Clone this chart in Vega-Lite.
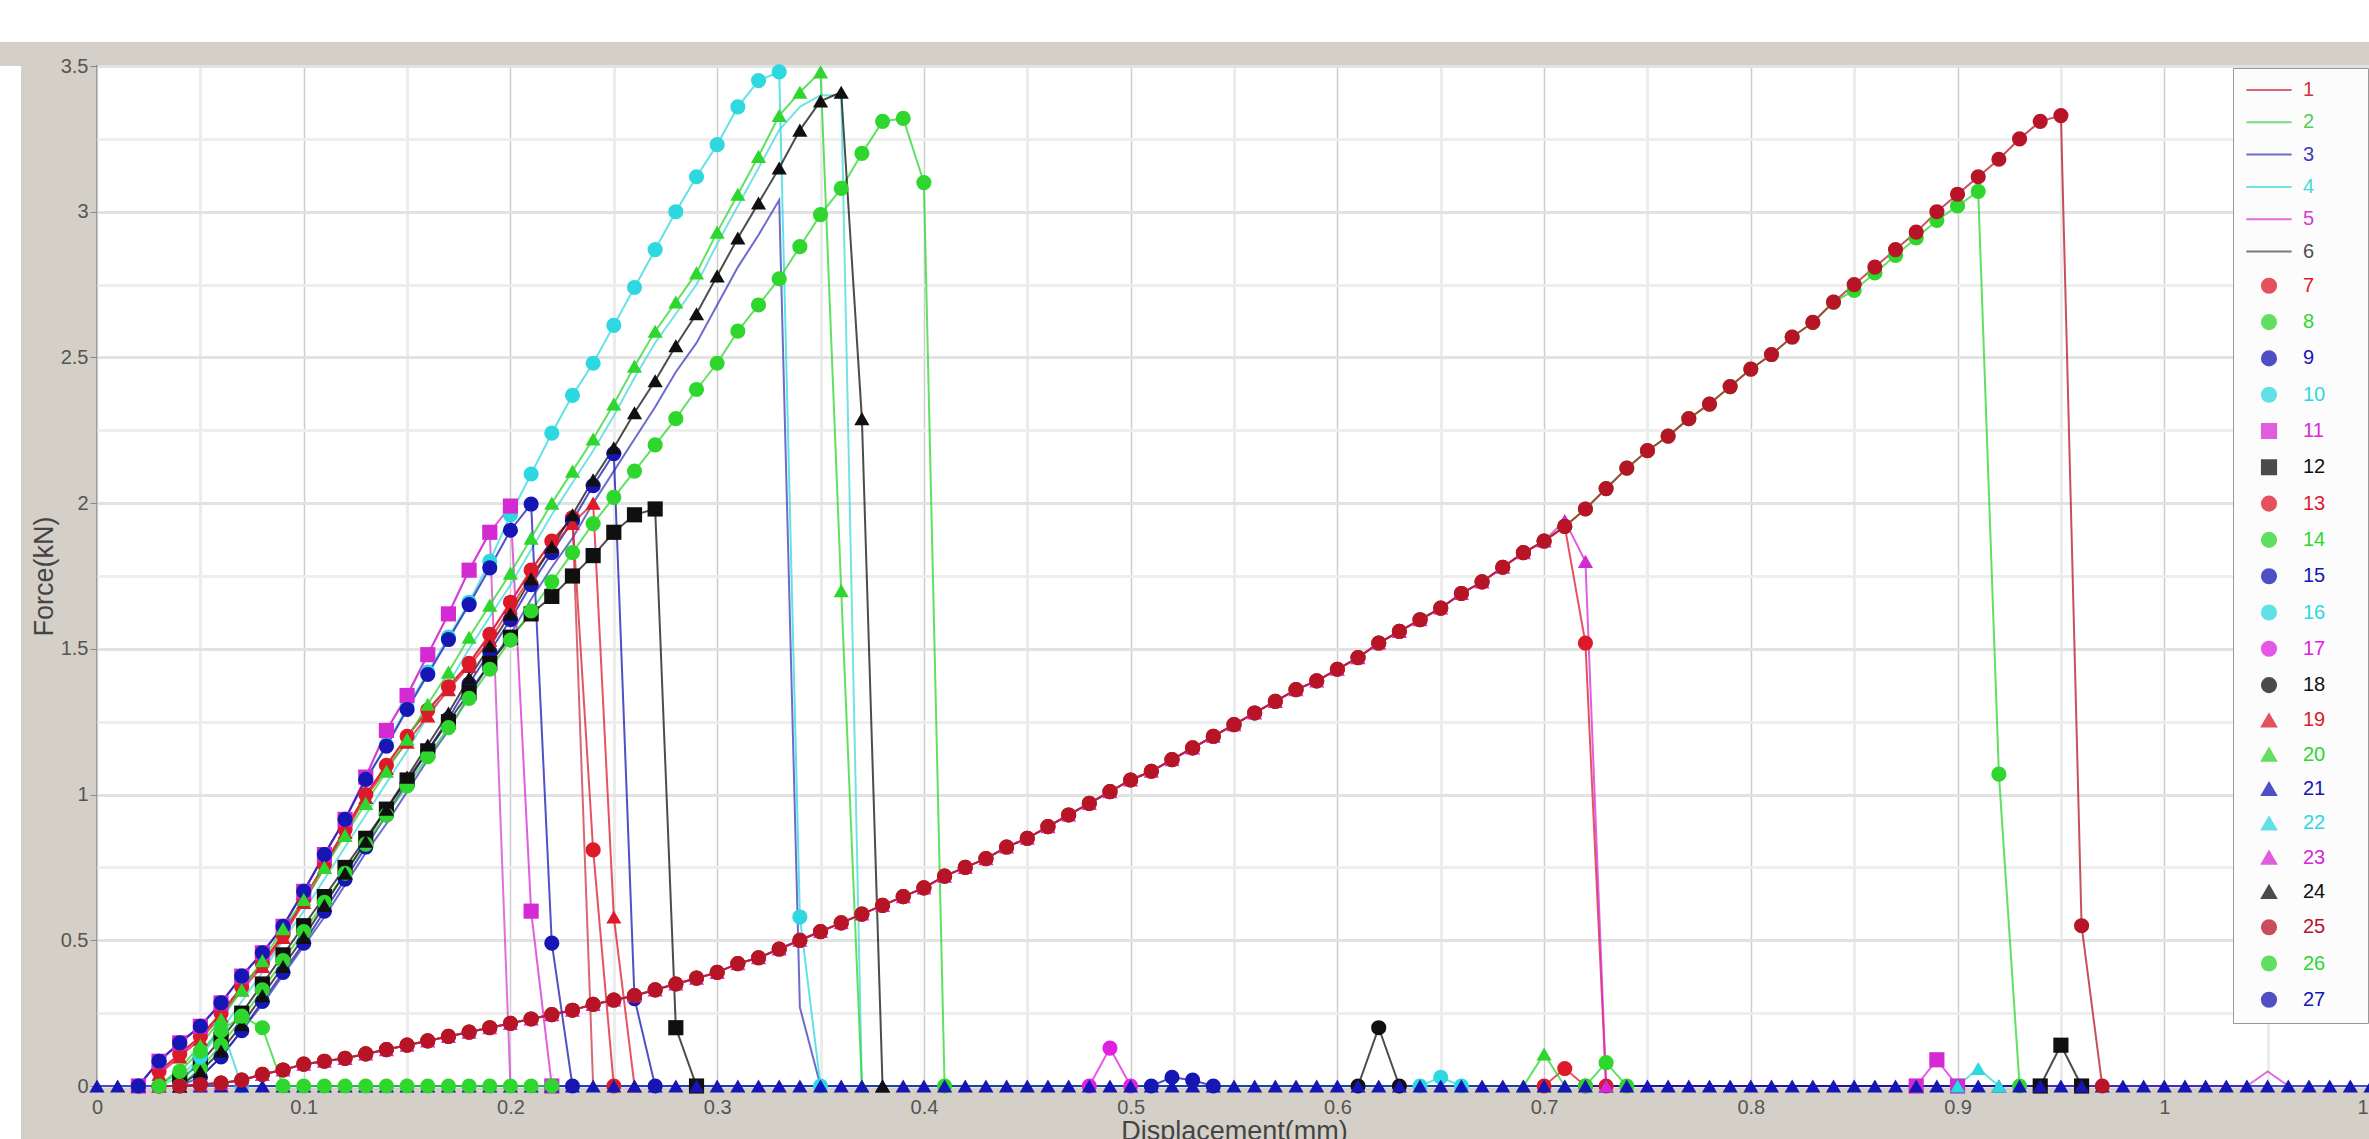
{
"$schema": "https://vega.github.io/schema/vega-lite/v6.json",
"autosize": {"type": "pad"},
"padding": 0,
"background": "#d4d0c8",
"spacing": 13,
"config": {"view": {"fill": "white", "stroke": "#8a8a8a", "strokeWidth": 2}, "font": "Liberation Sans"},
"vconcat": [
{"width": 2369, "height": 42, "view": {"fill": "white", "stroke": null}, "data": {"values": []}, "mark": "point"},
{"spacing": 8, "hconcat": [
{"width": 21, "height": 1100, "view": {"fill": "white", "stroke": null}, "data": {"values": []}, "mark": "point"},
{"name": "main", "width": 2274, "height": 1020,
"data": {"values": [
{"s":1,"x":0.03,"y":0.05},{"s":1,"x":0.04,"y":0.11},{"s":1,"x":0.05,"y":0.17},{"s":1,"x":0.06,"y":0.25},{"s":1,"x":0.07,"y":0.34},{"s":1,"x":0.08,"y":0.42},{"s":1,"x":0.09,"y":0.52},{"s":1,"x":0.10,"y":0.64},{"s":1,"x":0.11,"y":0.76},{"s":1,"x":0.12,"y":0.88},{"s":1,"x":0.13,"y":1.0},{"s":1,"x":0.14,"y":1.1},{"s":1,"x":0.15,"y":1.2},{"s":1,"x":0.16,"y":1.29},{"s":1,"x":0.17,"y":1.37},{"s":1,"x":0.18,"y":1.45},{"s":1,"x":0.19,"y":1.55},{"s":1,"x":0.20,"y":1.66},{"s":1,"x":0.21,"y":1.77},{"s":1,"x":0.22,"y":1.87},{"s":1,"x":0.23,"y":1.95},{"s":1,"x":0.24,"y":0},
{"s":3,"x":0.04,"y":0},{"s":3,"x":0.05,"y":0.03},{"s":3,"x":0.06,"y":0.1},{"s":3,"x":0.07,"y":0.19},{"s":3,"x":0.08,"y":0.28},{"s":3,"x":0.09,"y":0.38},{"s":3,"x":0.10,"y":0.48},{"s":3,"x":0.11,"y":0.58},{"s":3,"x":0.12,"y":0.69},{"s":3,"x":0.13,"y":0.8},{"s":3,"x":0.14,"y":0.9},{"s":3,"x":0.15,"y":1.01},{"s":3,"x":0.16,"y":1.12},{"s":3,"x":0.17,"y":1.22},{"s":3,"x":0.18,"y":1.34},{"s":3,"x":0.19,"y":1.45},{"s":3,"x":0.20,"y":1.55},{"s":3,"x":0.21,"y":1.67},{"s":3,"x":0.22,"y":1.78},{"s":3,"x":0.23,"y":1.88},{"s":3,"x":0.24,"y":2.0},{"s":3,"x":0.25,"y":2.11},{"s":3,"x":0.26,"y":2.22},{"s":3,"x":0.27,"y":2.33},{"s":3,"x":0.28,"y":2.45},{"s":3,"x":0.29,"y":2.55},{"s":3,"x":0.30,"y":2.68},{"s":3,"x":0.31,"y":2.81},{"s":3,"x":0.32,"y":2.92},{"s":3,"x":0.33,"y":3.04},{"s":3,"x":0.34,"y":0.27},{"s":3,"x":0.35,"y":0},
{"s":4,"x":0.03,"y":0},{"s":4,"x":0.04,"y":0.03},{"s":4,"x":0.05,"y":0.1},{"s":4,"x":0.06,"y":0.19},{"s":4,"x":0.07,"y":0.29},{"s":4,"x":0.08,"y":0.39},{"s":4,"x":0.09,"y":0.5},{"s":4,"x":0.10,"y":0.6},{"s":4,"x":0.11,"y":0.71},{"s":4,"x":0.12,"y":0.82},{"s":4,"x":0.13,"y":0.93},{"s":4,"x":0.14,"y":1.04},{"s":4,"x":0.15,"y":1.15},{"s":4,"x":0.16,"y":1.27},{"s":4,"x":0.17,"y":1.38},{"s":4,"x":0.18,"y":1.5},{"s":4,"x":0.19,"y":1.61},{"s":4,"x":0.20,"y":1.72},{"s":4,"x":0.21,"y":1.84},{"s":4,"x":0.22,"y":1.96},{"s":4,"x":0.23,"y":2.07},{"s":4,"x":0.24,"y":2.18},{"s":4,"x":0.25,"y":2.3},{"s":4,"x":0.26,"y":2.43},{"s":4,"x":0.27,"y":2.55},{"s":4,"x":0.28,"y":2.65},{"s":4,"x":0.29,"y":2.75},{"s":4,"x":0.30,"y":2.89},{"s":4,"x":0.31,"y":3.02},{"s":4,"x":0.32,"y":3.15},{"s":4,"x":0.33,"y":3.28},{"s":4,"x":0.34,"y":3.36},{"s":4,"x":0.35,"y":3.4},{"s":4,"x":0.36,"y":3.4},{"s":4,"x":0.37,"y":0},
{"s":5,"x":0.02,"y":0},{"s":5,"x":0.03,"y":0.085},{"s":5,"x":0.04,"y":0.148},{"s":5,"x":0.05,"y":0.205},{"s":5,"x":0.06,"y":0.285},{"s":5,"x":0.07,"y":0.377},{"s":5,"x":0.08,"y":0.457},{"s":5,"x":0.09,"y":0.548},{"s":5,"x":0.10,"y":0.668},{"s":5,"x":0.11,"y":0.794},{"s":5,"x":0.12,"y":0.915},{"s":5,"x":0.13,"y":1.06},{"s":5,"x":0.14,"y":1.22},{"s":5,"x":0.15,"y":1.34},{"s":5,"x":0.16,"y":1.48},{"s":5,"x":0.17,"y":1.62},{"s":5,"x":0.18,"y":1.77},{"s":5,"x":0.19,"y":1.9},{"s":5,"x":0.20,"y":0},{"s":5,"x":1.04,"y":0},{"s":5,"x":1.05,"y":0.05},{"s":5,"x":1.06,"y":0},
{"s":7,"x":0.03,"y":0.05},{"s":7,"x":0.04,"y":0.11},{"s":7,"x":0.05,"y":0.17},{"s":7,"x":0.06,"y":0.25},{"s":7,"x":0.07,"y":0.34},{"s":7,"x":0.08,"y":0.42},{"s":7,"x":0.09,"y":0.52},{"s":7,"x":0.10,"y":0.64},{"s":7,"x":0.11,"y":0.76},{"s":7,"x":0.12,"y":0.88},{"s":7,"x":0.13,"y":1.0},{"s":7,"x":0.14,"y":1.1},{"s":7,"x":0.15,"y":1.2},{"s":7,"x":0.16,"y":1.29},{"s":7,"x":0.17,"y":1.37},{"s":7,"x":0.18,"y":1.45},{"s":7,"x":0.19,"y":1.55},{"s":7,"x":0.20,"y":1.66},{"s":7,"x":0.21,"y":1.77},{"s":7,"x":0.22,"y":1.87},{"s":7,"x":0.23,"y":1.95},{"s":7,"x":0.24,"y":0.81},{"s":7,"x":0.25,"y":0},{"s":7,"x":0.70,"y":0},{"s":7,"x":0.71,"y":0.06},{"s":7,"x":0.72,"y":0},
{"s":8,"x":0.03,"y":0},{"s":8,"x":0.04,"y":0},{"s":8,"x":0.05,"y":0.005},{"s":8,"x":0.06,"y":0.01},{"s":8,"x":0.07,"y":0.02},{"s":8,"x":0.08,"y":0.04},{"s":8,"x":0.09,"y":0.055},{"s":8,"x":0.10,"y":0.075},{"s":8,"x":0.11,"y":0.085},{"s":8,"x":0.12,"y":0.095},{"s":8,"x":0.13,"y":0.11},{"s":8,"x":0.14,"y":0.125},{"s":8,"x":0.15,"y":0.14},{"s":8,"x":0.16,"y":0.155},{"s":8,"x":0.17,"y":0.17},{"s":8,"x":0.18,"y":0.185},{"s":8,"x":0.19,"y":0.2},{"s":8,"x":0.20,"y":0.215},{"s":8,"x":0.21,"y":0.23},{"s":8,"x":0.22,"y":0.245},{"s":8,"x":0.23,"y":0.26},{"s":8,"x":0.24,"y":0.28},{"s":8,"x":0.25,"y":0.295},{"s":8,"x":0.26,"y":0.31},{"s":8,"x":0.27,"y":0.33},{"s":8,"x":0.28,"y":0.35},{"s":8,"x":0.29,"y":0.37},{"s":8,"x":0.30,"y":0.39},{"s":8,"x":0.31,"y":0.42},{"s":8,"x":0.32,"y":0.44},{"s":8,"x":0.33,"y":0.47},{"s":8,"x":0.34,"y":0.5},{"s":8,"x":0.35,"y":0.53},{"s":8,"x":0.36,"y":0.56},{"s":8,"x":0.37,"y":0.59},{"s":8,"x":0.38,"y":0.62},{"s":8,"x":0.39,"y":0.65},{"s":8,"x":0.40,"y":0.68},{"s":8,"x":0.41,"y":0.72},{"s":8,"x":0.42,"y":0.75},{"s":8,"x":0.43,"y":0.78},{"s":8,"x":0.44,"y":0.82},{"s":8,"x":0.45,"y":0.85},{"s":8,"x":0.46,"y":0.89},{"s":8,"x":0.47,"y":0.93},{"s":8,"x":0.48,"y":0.97},{"s":8,"x":0.49,"y":1.01},{"s":8,"x":0.50,"y":1.05},{"s":8,"x":0.51,"y":1.08},{"s":8,"x":0.52,"y":1.12},{"s":8,"x":0.53,"y":1.16},{"s":8,"x":0.54,"y":1.2},{"s":8,"x":0.55,"y":1.24},{"s":8,"x":0.56,"y":1.28},{"s":8,"x":0.57,"y":1.32},{"s":8,"x":0.58,"y":1.36},{"s":8,"x":0.59,"y":1.39},{"s":8,"x":0.60,"y":1.43},{"s":8,"x":0.61,"y":1.47},{"s":8,"x":0.62,"y":1.52},{"s":8,"x":0.63,"y":1.56},{"s":8,"x":0.64,"y":1.6},{"s":8,"x":0.65,"y":1.64},{"s":8,"x":0.66,"y":1.69},{"s":8,"x":0.67,"y":1.73},{"s":8,"x":0.68,"y":1.78},{"s":8,"x":0.69,"y":1.83},{"s":8,"x":0.70,"y":1.87},{"s":8,"x":0.71,"y":1.92},{"s":8,"x":0.72,"y":1.98},{"s":8,"x":0.73,"y":2.05},{"s":8,"x":0.74,"y":2.12},{"s":8,"x":0.75,"y":2.18},{"s":8,"x":0.76,"y":2.23},{"s":8,"x":0.77,"y":2.29},{"s":8,"x":0.78,"y":2.34},{"s":8,"x":0.79,"y":2.4},{"s":8,"x":0.80,"y":2.46},{"s":8,"x":0.81,"y":2.51},{"s":8,"x":0.82,"y":2.57},{"s":8,"x":0.83,"y":2.62},{"s":8,"x":0.84,"y":2.69},{"s":8,"x":0.85,"y":2.73},{"s":8,"x":0.86,"y":2.79},{"s":8,"x":0.87,"y":2.85},{"s":8,"x":0.88,"y":2.91},{"s":8,"x":0.89,"y":2.97},{"s":8,"x":0.90,"y":3.02},{"s":8,"x":0.91,"y":3.07},{"s":8,"x":0.92,"y":1.07},{"s":8,"x":0.93,"y":0},
{"s":9,"x":0.05,"y":0.03},{"s":9,"x":0.06,"y":0.1},{"s":9,"x":0.07,"y":0.19},{"s":9,"x":0.08,"y":0.29},{"s":9,"x":0.09,"y":0.39},{"s":9,"x":0.10,"y":0.49},{"s":9,"x":0.11,"y":0.6},{"s":9,"x":0.12,"y":0.71},{"s":9,"x":0.13,"y":0.82},{"s":9,"x":0.14,"y":0.93},{"s":9,"x":0.15,"y":1.04},{"s":9,"x":0.16,"y":1.15},{"s":9,"x":0.17,"y":1.26},{"s":9,"x":0.18,"y":1.38},{"s":9,"x":0.19,"y":1.49},{"s":9,"x":0.20,"y":1.6},{"s":9,"x":0.21,"y":1.72},{"s":9,"x":0.22,"y":1.83},{"s":9,"x":0.23,"y":1.94},{"s":9,"x":0.24,"y":2.06},{"s":9,"x":0.25,"y":2.17},{"s":9,"x":0.26,"y":0.3},{"s":9,"x":0.27,"y":0},
{"s":10,"x":0.02,"y":0},{"s":10,"x":0.03,"y":0.085},{"s":10,"x":0.04,"y":0.148},{"s":10,"x":0.05,"y":0.205},{"s":10,"x":0.06,"y":0.285},{"s":10,"x":0.07,"y":0.377},{"s":10,"x":0.08,"y":0.457},{"s":10,"x":0.09,"y":0.548},{"s":10,"x":0.10,"y":0.668},{"s":10,"x":0.11,"y":0.794},{"s":10,"x":0.12,"y":0.915},{"s":10,"x":0.13,"y":1.052},{"s":10,"x":0.14,"y":1.17},{"s":10,"x":0.15,"y":1.3},{"s":10,"x":0.16,"y":1.42},{"s":10,"x":0.17,"y":1.54},{"s":10,"x":0.18,"y":1.66},{"s":10,"x":0.19,"y":1.8},{"s":10,"x":0.20,"y":1.96},{"s":10,"x":0.21,"y":2.1},{"s":10,"x":0.22,"y":2.24},{"s":10,"x":0.23,"y":2.37},{"s":10,"x":0.24,"y":2.48},{"s":10,"x":0.25,"y":2.61},{"s":10,"x":0.26,"y":2.74},{"s":10,"x":0.27,"y":2.87},{"s":10,"x":0.28,"y":3.0},{"s":10,"x":0.29,"y":3.12},{"s":10,"x":0.30,"y":3.23},{"s":10,"x":0.31,"y":3.36},{"s":10,"x":0.32,"y":3.45},{"s":10,"x":0.33,"y":3.48},{"s":10,"x":0.34,"y":0.58},{"s":10,"x":0.35,"y":0},
{"s":11,"x":0.02,"y":0},{"s":11,"x":0.03,"y":0.085},{"s":11,"x":0.04,"y":0.148},{"s":11,"x":0.05,"y":0.205},{"s":11,"x":0.06,"y":0.285},{"s":11,"x":0.07,"y":0.377},{"s":11,"x":0.08,"y":0.457},{"s":11,"x":0.09,"y":0.548},{"s":11,"x":0.10,"y":0.668},{"s":11,"x":0.11,"y":0.794},{"s":11,"x":0.12,"y":0.915},{"s":11,"x":0.13,"y":1.06},{"s":11,"x":0.14,"y":1.22},{"s":11,"x":0.15,"y":1.34},{"s":11,"x":0.16,"y":1.48},{"s":11,"x":0.17,"y":1.62},{"s":11,"x":0.18,"y":1.77},{"s":11,"x":0.19,"y":1.9},{"s":11,"x":0.20,"y":1.99},{"s":11,"x":0.21,"y":0.6},{"s":11,"x":0.22,"y":0},{"s":11,"x":0.88,"y":0},{"s":11,"x":0.89,"y":0.09},{"s":11,"x":0.90,"y":0},
{"s":12,"x":0.04,"y":0.02},{"s":12,"x":0.05,"y":0.08},{"s":12,"x":0.06,"y":0.16},{"s":12,"x":0.07,"y":0.25},{"s":12,"x":0.08,"y":0.35},{"s":12,"x":0.09,"y":0.45},{"s":12,"x":0.10,"y":0.55},{"s":12,"x":0.11,"y":0.65},{"s":12,"x":0.12,"y":0.75},{"s":12,"x":0.13,"y":0.85},{"s":12,"x":0.14,"y":0.95},{"s":12,"x":0.15,"y":1.05},{"s":12,"x":0.16,"y":1.15},{"s":12,"x":0.17,"y":1.25},{"s":12,"x":0.18,"y":1.35},{"s":12,"x":0.19,"y":1.45},{"s":12,"x":0.20,"y":1.54},{"s":12,"x":0.21,"y":1.62},{"s":12,"x":0.22,"y":1.68},{"s":12,"x":0.23,"y":1.75},{"s":12,"x":0.24,"y":1.82},{"s":12,"x":0.25,"y":1.9},{"s":12,"x":0.26,"y":1.96},{"s":12,"x":0.27,"y":1.98},{"s":12,"x":0.28,"y":0.2},{"s":12,"x":0.29,"y":0},{"s":12,"x":0.94,"y":0},{"s":12,"x":0.95,"y":0.14},{"s":12,"x":0.96,"y":0},
{"s":13,"x":0.03,"y":0},{"s":13,"x":0.04,"y":0},{"s":13,"x":0.05,"y":0.005},{"s":13,"x":0.06,"y":0.01},{"s":13,"x":0.07,"y":0.02},{"s":13,"x":0.08,"y":0.04},{"s":13,"x":0.09,"y":0.055},{"s":13,"x":0.10,"y":0.075},{"s":13,"x":0.11,"y":0.085},{"s":13,"x":0.12,"y":0.095},{"s":13,"x":0.13,"y":0.11},{"s":13,"x":0.14,"y":0.125},{"s":13,"x":0.15,"y":0.14},{"s":13,"x":0.16,"y":0.155},{"s":13,"x":0.17,"y":0.17},{"s":13,"x":0.18,"y":0.185},{"s":13,"x":0.19,"y":0.2},{"s":13,"x":0.20,"y":0.215},{"s":13,"x":0.21,"y":0.23},{"s":13,"x":0.22,"y":0.245},{"s":13,"x":0.23,"y":0.26},{"s":13,"x":0.24,"y":0.28},{"s":13,"x":0.25,"y":0.295},{"s":13,"x":0.26,"y":0.31},{"s":13,"x":0.27,"y":0.33},{"s":13,"x":0.28,"y":0.35},{"s":13,"x":0.29,"y":0.37},{"s":13,"x":0.30,"y":0.39},{"s":13,"x":0.31,"y":0.42},{"s":13,"x":0.32,"y":0.44},{"s":13,"x":0.33,"y":0.47},{"s":13,"x":0.34,"y":0.5},{"s":13,"x":0.35,"y":0.53},{"s":13,"x":0.36,"y":0.56},{"s":13,"x":0.37,"y":0.59},{"s":13,"x":0.38,"y":0.62},{"s":13,"x":0.39,"y":0.65},{"s":13,"x":0.40,"y":0.68},{"s":13,"x":0.41,"y":0.72},{"s":13,"x":0.42,"y":0.75},{"s":13,"x":0.43,"y":0.78},{"s":13,"x":0.44,"y":0.82},{"s":13,"x":0.45,"y":0.85},{"s":13,"x":0.46,"y":0.89},{"s":13,"x":0.47,"y":0.93},{"s":13,"x":0.48,"y":0.97},{"s":13,"x":0.49,"y":1.01},{"s":13,"x":0.50,"y":1.05},{"s":13,"x":0.51,"y":1.08},{"s":13,"x":0.52,"y":1.12},{"s":13,"x":0.53,"y":1.16},{"s":13,"x":0.54,"y":1.2},{"s":13,"x":0.55,"y":1.24},{"s":13,"x":0.56,"y":1.28},{"s":13,"x":0.57,"y":1.32},{"s":13,"x":0.58,"y":1.36},{"s":13,"x":0.59,"y":1.39},{"s":13,"x":0.60,"y":1.43},{"s":13,"x":0.61,"y":1.47},{"s":13,"x":0.62,"y":1.52},{"s":13,"x":0.63,"y":1.56},{"s":13,"x":0.64,"y":1.6},{"s":13,"x":0.65,"y":1.64},{"s":13,"x":0.66,"y":1.69},{"s":13,"x":0.67,"y":1.73},{"s":13,"x":0.68,"y":1.78},{"s":13,"x":0.69,"y":1.83},{"s":13,"x":0.70,"y":1.87},{"s":13,"x":0.71,"y":1.92},{"s":13,"x":0.72,"y":1.52},{"s":13,"x":0.73,"y":0},
{"s":14,"x":0.04,"y":0},{"s":14,"x":0.05,"y":0.06},{"s":14,"x":0.06,"y":0.14},{"s":14,"x":0.07,"y":0.23},{"s":14,"x":0.08,"y":0.33},{"s":14,"x":0.09,"y":0.43},{"s":14,"x":0.10,"y":0.53},{"s":14,"x":0.11,"y":0.63},{"s":14,"x":0.12,"y":0.73},{"s":14,"x":0.13,"y":0.83},{"s":14,"x":0.14,"y":0.93},{"s":14,"x":0.15,"y":1.03},{"s":14,"x":0.16,"y":1.13},{"s":14,"x":0.17,"y":1.23},{"s":14,"x":0.18,"y":1.33},{"s":14,"x":0.19,"y":1.43},{"s":14,"x":0.20,"y":1.53},{"s":14,"x":0.21,"y":1.63},{"s":14,"x":0.22,"y":1.73},{"s":14,"x":0.23,"y":1.83},{"s":14,"x":0.24,"y":1.93},{"s":14,"x":0.25,"y":2.02},{"s":14,"x":0.26,"y":2.11},{"s":14,"x":0.27,"y":2.2},{"s":14,"x":0.28,"y":2.29},{"s":14,"x":0.29,"y":2.39},{"s":14,"x":0.30,"y":2.48},{"s":14,"x":0.31,"y":2.59},{"s":14,"x":0.32,"y":2.68},{"s":14,"x":0.33,"y":2.77},{"s":14,"x":0.34,"y":2.88},{"s":14,"x":0.35,"y":2.99},{"s":14,"x":0.36,"y":3.08},{"s":14,"x":0.37,"y":3.2},{"s":14,"x":0.38,"y":3.31},{"s":14,"x":0.39,"y":3.32},{"s":14,"x":0.40,"y":3.1},{"s":14,"x":0.41,"y":0},{"s":14,"x":0.72,"y":0},{"s":14,"x":0.73,"y":0.08},{"s":14,"x":0.74,"y":0},
{"s":15,"x":0.02,"y":0},{"s":15,"x":0.03,"y":0.085},{"s":15,"x":0.04,"y":0.148},{"s":15,"x":0.05,"y":0.205},{"s":15,"x":0.06,"y":0.285},{"s":15,"x":0.07,"y":0.377},{"s":15,"x":0.08,"y":0.457},{"s":15,"x":0.09,"y":0.548},{"s":15,"x":0.10,"y":0.668},{"s":15,"x":0.11,"y":0.794},{"s":15,"x":0.12,"y":0.915},{"s":15,"x":0.13,"y":1.052},{"s":15,"x":0.14,"y":1.166},{"s":15,"x":0.15,"y":1.292},{"s":15,"x":0.16,"y":1.412},{"s":15,"x":0.17,"y":1.532},{"s":15,"x":0.18,"y":1.652},{"s":15,"x":0.19,"y":1.778},{"s":15,"x":0.20,"y":1.907},{"s":15,"x":0.21,"y":1.997},{"s":15,"x":0.22,"y":0.49},{"s":15,"x":0.23,"y":0},
{"s":16,"x":0.04,"y":0},{"s":16,"x":0.05,"y":0.1},{"s":16,"x":0.06,"y":0.21},{"s":16,"x":0.07,"y":0},{"s":16,"x":0.64,"y":0},{"s":16,"x":0.65,"y":0.03},{"s":16,"x":0.66,"y":0},
{"s":17,"x":0.48,"y":0},{"s":17,"x":0.49,"y":0.13},{"s":17,"x":0.50,"y":0},
{"s":18,"x":0.61,"y":0},{"s":18,"x":0.62,"y":0.2},{"s":18,"x":0.63,"y":0},
{"s":19,"x":0.03,"y":0.04},{"s":19,"x":0.04,"y":0.1},{"s":19,"x":0.05,"y":0.16},{"s":19,"x":0.06,"y":0.24},{"s":19,"x":0.07,"y":0.33},{"s":19,"x":0.08,"y":0.41},{"s":19,"x":0.09,"y":0.51},{"s":19,"x":0.10,"y":0.63},{"s":19,"x":0.11,"y":0.75},{"s":19,"x":0.12,"y":0.87},{"s":19,"x":0.13,"y":0.99},{"s":19,"x":0.14,"y":1.09},{"s":19,"x":0.15,"y":1.18},{"s":19,"x":0.16,"y":1.27},{"s":19,"x":0.17,"y":1.36},{"s":19,"x":0.18,"y":1.44},{"s":19,"x":0.19,"y":1.53},{"s":19,"x":0.20,"y":1.64},{"s":19,"x":0.21,"y":1.75},{"s":19,"x":0.22,"y":1.85},{"s":19,"x":0.23,"y":1.93},{"s":19,"x":0.24,"y":2.0},{"s":19,"x":0.25,"y":0.58},{"s":19,"x":0.26,"y":0},
{"s":20,"x":0.03,"y":0},{"s":20,"x":0.04,"y":0.06},{"s":20,"x":0.05,"y":0.14},{"s":20,"x":0.06,"y":0.23},{"s":20,"x":0.07,"y":0.33},{"s":20,"x":0.08,"y":0.43},{"s":20,"x":0.09,"y":0.54},{"s":20,"x":0.10,"y":0.64},{"s":20,"x":0.11,"y":0.75},{"s":20,"x":0.12,"y":0.86},{"s":20,"x":0.13,"y":0.97},{"s":20,"x":0.14,"y":1.08},{"s":20,"x":0.15,"y":1.19},{"s":20,"x":0.16,"y":1.31},{"s":20,"x":0.17,"y":1.42},{"s":20,"x":0.18,"y":1.54},{"s":20,"x":0.19,"y":1.65},{"s":20,"x":0.20,"y":1.76},{"s":20,"x":0.21,"y":1.88},{"s":20,"x":0.22,"y":2.0},{"s":20,"x":0.23,"y":2.11},{"s":20,"x":0.24,"y":2.22},{"s":20,"x":0.25,"y":2.34},{"s":20,"x":0.26,"y":2.47},{"s":20,"x":0.27,"y":2.59},{"s":20,"x":0.28,"y":2.69},{"s":20,"x":0.29,"y":2.79},{"s":20,"x":0.30,"y":2.93},{"s":20,"x":0.31,"y":3.06},{"s":20,"x":0.32,"y":3.19},{"s":20,"x":0.33,"y":3.33},{"s":20,"x":0.34,"y":3.41},{"s":20,"x":0.35,"y":3.48},{"s":20,"x":0.36,"y":1.7},{"s":20,"x":0.37,"y":0},{"s":20,"x":0.69,"y":0},{"s":20,"x":0.70,"y":0.11},{"s":20,"x":0.71,"y":0},
{"s":21,"x":0,"y":0},{"s":21,"x":0.01,"y":0},{"s":21,"x":0.02,"y":0},{"s":21,"x":0.03,"y":0},{"s":21,"x":0.04,"y":0},{"s":21,"x":0.05,"y":0},{"s":21,"x":0.06,"y":0},{"s":21,"x":0.07,"y":0},{"s":21,"x":0.08,"y":0},{"s":21,"x":0.09,"y":0},{"s":21,"x":0.10,"y":0},{"s":21,"x":0.11,"y":0},{"s":21,"x":0.12,"y":0},{"s":21,"x":0.13,"y":0},{"s":21,"x":0.14,"y":0},{"s":21,"x":0.15,"y":0},{"s":21,"x":0.16,"y":0},{"s":21,"x":0.17,"y":0},{"s":21,"x":0.18,"y":0},{"s":21,"x":0.19,"y":0},{"s":21,"x":0.20,"y":0},{"s":21,"x":0.21,"y":0},{"s":21,"x":0.22,"y":0},{"s":21,"x":0.23,"y":0},{"s":21,"x":0.24,"y":0},{"s":21,"x":0.25,"y":0},{"s":21,"x":0.26,"y":0},{"s":21,"x":0.27,"y":0},{"s":21,"x":0.28,"y":0},{"s":21,"x":0.29,"y":0},{"s":21,"x":0.30,"y":0},{"s":21,"x":0.31,"y":0},{"s":21,"x":0.32,"y":0},{"s":21,"x":0.33,"y":0},{"s":21,"x":0.34,"y":0},{"s":21,"x":0.35,"y":0},{"s":21,"x":0.36,"y":0},{"s":21,"x":0.37,"y":0},{"s":21,"x":0.38,"y":0},{"s":21,"x":0.39,"y":0},{"s":21,"x":0.40,"y":0},{"s":21,"x":0.41,"y":0},{"s":21,"x":0.42,"y":0},{"s":21,"x":0.43,"y":0},{"s":21,"x":0.44,"y":0},{"s":21,"x":0.45,"y":0},{"s":21,"x":0.46,"y":0},{"s":21,"x":0.47,"y":0},{"s":21,"x":0.48,"y":0},{"s":21,"x":0.49,"y":0},{"s":21,"x":0.50,"y":0},{"s":21,"x":0.51,"y":0},{"s":21,"x":0.52,"y":0},{"s":21,"x":0.53,"y":0},{"s":21,"x":0.54,"y":0},{"s":21,"x":0.55,"y":0},{"s":21,"x":0.56,"y":0},{"s":21,"x":0.57,"y":0},{"s":21,"x":0.58,"y":0},{"s":21,"x":0.59,"y":0},{"s":21,"x":0.60,"y":0},{"s":21,"x":0.61,"y":0},{"s":21,"x":0.62,"y":0},{"s":21,"x":0.63,"y":0},{"s":21,"x":0.64,"y":0},{"s":21,"x":0.65,"y":0},{"s":21,"x":0.66,"y":0},{"s":21,"x":0.67,"y":0},{"s":21,"x":0.68,"y":0},{"s":21,"x":0.69,"y":0},{"s":21,"x":0.70,"y":0},{"s":21,"x":0.71,"y":0},{"s":21,"x":0.72,"y":0},{"s":21,"x":0.73,"y":0},{"s":21,"x":0.74,"y":0},{"s":21,"x":0.75,"y":0},{"s":21,"x":0.76,"y":0},{"s":21,"x":0.77,"y":0},{"s":21,"x":0.78,"y":0},{"s":21,"x":0.79,"y":0},{"s":21,"x":0.80,"y":0},{"s":21,"x":0.81,"y":0},{"s":21,"x":0.82,"y":0},{"s":21,"x":0.83,"y":0},{"s":21,"x":0.84,"y":0},{"s":21,"x":0.85,"y":0},{"s":21,"x":0.86,"y":0},{"s":21,"x":0.87,"y":0},{"s":21,"x":0.88,"y":0},{"s":21,"x":0.89,"y":0},{"s":21,"x":0.90,"y":0},{"s":21,"x":0.91,"y":0},{"s":21,"x":0.92,"y":0},{"s":21,"x":0.93,"y":0},{"s":21,"x":0.94,"y":0},{"s":21,"x":0.95,"y":0},{"s":21,"x":0.96,"y":0},{"s":21,"x":0.97,"y":0},{"s":21,"x":0.98,"y":0},{"s":21,"x":0.99,"y":0},{"s":21,"x":1.00,"y":0},{"s":21,"x":1.01,"y":0},{"s":21,"x":1.02,"y":0},{"s":21,"x":1.03,"y":0},{"s":21,"x":1.04,"y":0},{"s":21,"x":1.05,"y":0},{"s":21,"x":1.06,"y":0},{"s":21,"x":1.07,"y":0},{"s":21,"x":1.08,"y":0},{"s":21,"x":1.09,"y":0},{"s":21,"x":1.10,"y":0},
{"s":22,"x":0.90,"y":0},{"s":22,"x":0.91,"y":0.06},{"s":22,"x":0.92,"y":0},
{"s":23,"x":0.03,"y":0},{"s":23,"x":0.04,"y":0},{"s":23,"x":0.05,"y":0.005},{"s":23,"x":0.06,"y":0.01},{"s":23,"x":0.07,"y":0.02},{"s":23,"x":0.08,"y":0.04},{"s":23,"x":0.09,"y":0.055},{"s":23,"x":0.10,"y":0.075},{"s":23,"x":0.11,"y":0.085},{"s":23,"x":0.12,"y":0.095},{"s":23,"x":0.13,"y":0.11},{"s":23,"x":0.14,"y":0.125},{"s":23,"x":0.15,"y":0.14},{"s":23,"x":0.16,"y":0.155},{"s":23,"x":0.17,"y":0.17},{"s":23,"x":0.18,"y":0.185},{"s":23,"x":0.19,"y":0.2},{"s":23,"x":0.20,"y":0.215},{"s":23,"x":0.21,"y":0.23},{"s":23,"x":0.22,"y":0.245},{"s":23,"x":0.23,"y":0.26},{"s":23,"x":0.24,"y":0.28},{"s":23,"x":0.25,"y":0.295},{"s":23,"x":0.26,"y":0.31},{"s":23,"x":0.27,"y":0.33},{"s":23,"x":0.28,"y":0.35},{"s":23,"x":0.29,"y":0.37},{"s":23,"x":0.30,"y":0.39},{"s":23,"x":0.31,"y":0.42},{"s":23,"x":0.32,"y":0.44},{"s":23,"x":0.33,"y":0.47},{"s":23,"x":0.34,"y":0.5},{"s":23,"x":0.35,"y":0.53},{"s":23,"x":0.36,"y":0.56},{"s":23,"x":0.37,"y":0.59},{"s":23,"x":0.38,"y":0.62},{"s":23,"x":0.39,"y":0.65},{"s":23,"x":0.40,"y":0.68},{"s":23,"x":0.41,"y":0.72},{"s":23,"x":0.42,"y":0.75},{"s":23,"x":0.43,"y":0.78},{"s":23,"x":0.44,"y":0.82},{"s":23,"x":0.45,"y":0.85},{"s":23,"x":0.46,"y":0.89},{"s":23,"x":0.47,"y":0.93},{"s":23,"x":0.48,"y":0.97},{"s":23,"x":0.49,"y":1.01},{"s":23,"x":0.50,"y":1.05},{"s":23,"x":0.51,"y":1.08},{"s":23,"x":0.52,"y":1.12},{"s":23,"x":0.53,"y":1.16},{"s":23,"x":0.54,"y":1.2},{"s":23,"x":0.55,"y":1.24},{"s":23,"x":0.56,"y":1.28},{"s":23,"x":0.57,"y":1.32},{"s":23,"x":0.58,"y":1.36},{"s":23,"x":0.59,"y":1.39},{"s":23,"x":0.60,"y":1.43},{"s":23,"x":0.61,"y":1.47},{"s":23,"x":0.62,"y":1.52},{"s":23,"x":0.63,"y":1.56},{"s":23,"x":0.64,"y":1.6},{"s":23,"x":0.65,"y":1.64},{"s":23,"x":0.66,"y":1.69},{"s":23,"x":0.67,"y":1.73},{"s":23,"x":0.68,"y":1.78},{"s":23,"x":0.69,"y":1.83},{"s":23,"x":0.70,"y":1.87},{"s":23,"x":0.71,"y":1.94},{"s":23,"x":0.72,"y":1.8},{"s":23,"x":0.73,"y":0},
{"s":24,"x":0.04,"y":0},{"s":24,"x":0.05,"y":0.05},{"s":24,"x":0.06,"y":0.12},{"s":24,"x":0.07,"y":0.21},{"s":24,"x":0.08,"y":0.31},{"s":24,"x":0.09,"y":0.41},{"s":24,"x":0.10,"y":0.51},{"s":24,"x":0.11,"y":0.62},{"s":24,"x":0.12,"y":0.73},{"s":24,"x":0.13,"y":0.84},{"s":24,"x":0.14,"y":0.95},{"s":24,"x":0.15,"y":1.06},{"s":24,"x":0.16,"y":1.17},{"s":24,"x":0.17,"y":1.28},{"s":24,"x":0.18,"y":1.4},{"s":24,"x":0.19,"y":1.51},{"s":24,"x":0.20,"y":1.62},{"s":24,"x":0.21,"y":1.74},{"s":24,"x":0.22,"y":1.85},{"s":24,"x":0.23,"y":1.96},{"s":24,"x":0.24,"y":2.08},{"s":24,"x":0.25,"y":2.19},{"s":24,"x":0.26,"y":2.31},{"s":24,"x":0.27,"y":2.42},{"s":24,"x":0.28,"y":2.54},{"s":24,"x":0.29,"y":2.65},{"s":24,"x":0.30,"y":2.78},{"s":24,"x":0.31,"y":2.91},{"s":24,"x":0.32,"y":3.03},{"s":24,"x":0.33,"y":3.15},{"s":24,"x":0.34,"y":3.28},{"s":24,"x":0.35,"y":3.38},{"s":24,"x":0.36,"y":3.41},{"s":24,"x":0.37,"y":2.29},{"s":24,"x":0.38,"y":0},
{"s":25,"x":0.03,"y":0},{"s":25,"x":0.04,"y":0},{"s":25,"x":0.05,"y":0.005},{"s":25,"x":0.06,"y":0.01},{"s":25,"x":0.07,"y":0.02},{"s":25,"x":0.08,"y":0.04},{"s":25,"x":0.09,"y":0.055},{"s":25,"x":0.10,"y":0.075},{"s":25,"x":0.11,"y":0.085},{"s":25,"x":0.12,"y":0.095},{"s":25,"x":0.13,"y":0.11},{"s":25,"x":0.14,"y":0.125},{"s":25,"x":0.15,"y":0.14},{"s":25,"x":0.16,"y":0.155},{"s":25,"x":0.17,"y":0.17},{"s":25,"x":0.18,"y":0.185},{"s":25,"x":0.19,"y":0.2},{"s":25,"x":0.20,"y":0.215},{"s":25,"x":0.21,"y":0.23},{"s":25,"x":0.22,"y":0.245},{"s":25,"x":0.23,"y":0.26},{"s":25,"x":0.24,"y":0.28},{"s":25,"x":0.25,"y":0.295},{"s":25,"x":0.26,"y":0.31},{"s":25,"x":0.27,"y":0.33},{"s":25,"x":0.28,"y":0.35},{"s":25,"x":0.29,"y":0.37},{"s":25,"x":0.30,"y":0.39},{"s":25,"x":0.31,"y":0.42},{"s":25,"x":0.32,"y":0.44},{"s":25,"x":0.33,"y":0.47},{"s":25,"x":0.34,"y":0.5},{"s":25,"x":0.35,"y":0.53},{"s":25,"x":0.36,"y":0.56},{"s":25,"x":0.37,"y":0.59},{"s":25,"x":0.38,"y":0.62},{"s":25,"x":0.39,"y":0.65},{"s":25,"x":0.40,"y":0.68},{"s":25,"x":0.41,"y":0.72},{"s":25,"x":0.42,"y":0.75},{"s":25,"x":0.43,"y":0.78},{"s":25,"x":0.44,"y":0.82},{"s":25,"x":0.45,"y":0.85},{"s":25,"x":0.46,"y":0.89},{"s":25,"x":0.47,"y":0.93},{"s":25,"x":0.48,"y":0.97},{"s":25,"x":0.49,"y":1.01},{"s":25,"x":0.50,"y":1.05},{"s":25,"x":0.51,"y":1.08},{"s":25,"x":0.52,"y":1.12},{"s":25,"x":0.53,"y":1.16},{"s":25,"x":0.54,"y":1.2},{"s":25,"x":0.55,"y":1.24},{"s":25,"x":0.56,"y":1.28},{"s":25,"x":0.57,"y":1.32},{"s":25,"x":0.58,"y":1.36},{"s":25,"x":0.59,"y":1.39},{"s":25,"x":0.60,"y":1.43},{"s":25,"x":0.61,"y":1.47},{"s":25,"x":0.62,"y":1.52},{"s":25,"x":0.63,"y":1.56},{"s":25,"x":0.64,"y":1.6},{"s":25,"x":0.65,"y":1.64},{"s":25,"x":0.66,"y":1.69},{"s":25,"x":0.67,"y":1.73},{"s":25,"x":0.68,"y":1.78},{"s":25,"x":0.69,"y":1.83},{"s":25,"x":0.70,"y":1.87},{"s":25,"x":0.71,"y":1.92},{"s":25,"x":0.72,"y":1.98},{"s":25,"x":0.73,"y":2.05},{"s":25,"x":0.74,"y":2.12},{"s":25,"x":0.75,"y":2.18},{"s":25,"x":0.76,"y":2.23},{"s":25,"x":0.77,"y":2.29},{"s":25,"x":0.78,"y":2.34},{"s":25,"x":0.79,"y":2.4},{"s":25,"x":0.80,"y":2.46},{"s":25,"x":0.81,"y":2.51},{"s":25,"x":0.82,"y":2.57},{"s":25,"x":0.83,"y":2.62},{"s":25,"x":0.84,"y":2.69},{"s":25,"x":0.85,"y":2.75},{"s":25,"x":0.86,"y":2.81},{"s":25,"x":0.87,"y":2.87},{"s":25,"x":0.88,"y":2.93},{"s":25,"x":0.89,"y":3.0},{"s":25,"x":0.90,"y":3.06},{"s":25,"x":0.91,"y":3.12},{"s":25,"x":0.92,"y":3.18},{"s":25,"x":0.93,"y":3.25},{"s":25,"x":0.94,"y":3.31},{"s":25,"x":0.95,"y":3.33},{"s":25,"x":0.96,"y":0.55},{"s":25,"x":0.97,"y":0},
{"s":26,"x":0.03,"y":0},{"s":26,"x":0.04,"y":0.05},{"s":26,"x":0.05,"y":0.12},{"s":26,"x":0.06,"y":0.19},{"s":26,"x":0.07,"y":0.24},{"s":26,"x":0.08,"y":0.2},{"s":26,"x":0.09,"y":0},{"s":26,"x":0.10,"y":0},{"s":26,"x":0.11,"y":0},{"s":26,"x":0.12,"y":0},{"s":26,"x":0.13,"y":0},{"s":26,"x":0.14,"y":0},{"s":26,"x":0.15,"y":0},{"s":26,"x":0.16,"y":0},{"s":26,"x":0.17,"y":0},{"s":26,"x":0.18,"y":0},{"s":26,"x":0.19,"y":0},{"s":26,"x":0.20,"y":0},{"s":26,"x":0.21,"y":0},{"s":26,"x":0.22,"y":0},
{"s":27,"x":0.51,"y":0},{"s":27,"x":0.52,"y":0.03},{"s":27,"x":0.53,"y":0.02},{"s":27,"x":0.54,"y":0}
]},
"encoding": {
  "x": {"field": "x", "type": "quantitative", "scale": {"domain": [0, 1.1], "nice": false, "zero": false},
    "axis": {"values": [0,0.05,0.1,0.15,0.2,0.25,0.3,0.35,0.4,0.45,0.5,0.55,0.6,0.65,0.7,0.75,0.8,0.85,0.9,0.95,1,1.05,1.1],
      "format": ".2~f", "labelExpr": "round(datum.value*100) % 10 == 0 ? datum.label : ''",
      "title": "Displacement(mm)", "grid": true, "domain": false,
      "gridColor": {"condition": {"test": "round(datum.value*100) % 10 == 0", "value": "#cdcdcd"}, "value": "#ececec"},
      "gridWidth": {"condition": {"test": "round(datum.value*100) % 10 == 0", "value": 1.5}, "value": 3},
      "tickColor": {"condition": {"test": "round(datum.value*100) % 10 == 0", "value": "#888888"}, "value": "transparent"},
      "tickSize": 6, "labelPadding": 5, "labelFontSize": 20, "labelColor": "#555555", "labelFlush": false, "labelOverlap": false,
      "titleFontSize": 27, "titleColor": "#444444", "titleFontWeight": "normal", "titlePadding": 1}},
  "y": {"field": "y", "type": "quantitative", "scale": {"domain": [0, 3.5], "nice": false},
    "axis": {"values": [0,0.25,0.5,0.75,1,1.25,1.5,1.75,2,2.25,2.5,2.75,3,3.25,3.5],
      "format": ".2~f", "labelExpr": "round(datum.value*100) % 50 == 0 ? datum.label : ''",
      "title": "Force(kN)", "grid": true, "domain": false,
      "gridColor": {"condition": {"test": "round(datum.value*100) % 50 == 0", "value": "#e2e2e2"}, "value": "#eeeeee"},
      "gridWidth": 3,
      "tickColor": {"condition": {"test": "round(datum.value*100) % 50 == 0", "value": "#888888"}, "value": "transparent"},
      "tickSize": 7, "labelPadding": 2, "labelFontSize": 20, "labelColor": "#555555", "labelFlush": false, "labelOverlap": false,
      "titleFontSize": 27, "titleColor": "#444444", "titleFontWeight": "normal", "titlePadding": 2}}
},
"layer": [
  {"mark": {"type": "line", "strokeWidth": 2, "opacity": 0.75},
   "encoding": {"color": {"field": "s", "type": "nominal",
     "scale": {"domain": [1,2,3,4,5,6,7,8,9,10,11,12,13,14,15,16,17,18,19,20,21,22,23,24,25,26,27],
       "range": ["#cc3344","#55cc55","#3b3bbb","#44d8d8","#d040d0","#505050","#dd1a2a","#2ed62e","#1616b4","#2ed8e0","#d42ad4","#101010","#dd1a2a","#2ed62e","#1616b4","#2ed8e0","#e020e0","#101010","#dd1a2a","#2ed62e","#1616b4","#2ed8e0","#d42ad4","#101010","#b81428","#2ed62e","#1616b4"]}}}},
  {"mark": {"type": "point", "filled": true, "size": 230, "opacity": 1},
   "encoding": {
     "color": {"field": "s", "type": "nominal",
       "legend": {"title": null, "orient": "none", "legendX": 2233, "legendY": 68, "padding": 12, "symbolOffset": 14, "labelOffset": 24,
         "symbolSize": 200, "symbolStrokeWidth": 2,
         "symbolStrokeColor": {"expr": "['#cc3344','#55cc55','#3b3bbb','#44d8d8','#d040d0','#505050','#dd1a2a','#2ed62e','#1616b4','#2ed8e0','#d42ad4','#101010','#dd1a2a','#2ed62e','#1616b4','#2ed8e0','#e020e0','#101010','#dd1a2a','#2ed62e','#1616b4','#2ed8e0','#d42ad4','#101010','#b81428','#2ed62e','#1616b4'][datum.value - 1]"},
         "labelColor": {"expr": "['#cc3344','#55cc55','#3b3bbb','#44d8d8','#d040d0','#505050','#dd1a2a','#2ed62e','#1616b4','#2ed8e0','#d42ad4','#101010','#dd1a2a','#2ed62e','#1616b4','#2ed8e0','#e020e0','#101010','#dd1a2a','#2ed62e','#1616b4','#2ed8e0','#d42ad4','#101010','#b81428','#2ed62e','#1616b4'][datum.value - 1]"},
         "labelFontSize": 20, "rowPadding": 12.3,
         "fillColor": "#fcfcfc", "strokeColor": "#9a9a9a", "symbolLimit": 40,
         "labelExpr": "datum.label + '\u2800\u2800'"}},
     "shape": {"field": "s", "type": "nominal",
       "scale": {"domain": [1,2,3,4,5,6,7,8,9,10,11,12,13,14,15,16,17,18,19,20,21,22,23,24,25,26,27],
         "range": ["M-3.2,0L3.2,0","M-3.2,0L3.2,0","M-3.2,0L3.2,0","M-3.2,0L3.2,0","M-3.2,0L3.2,0","M-3.2,0L3.2,0","circle","circle","circle","circle","square","square","circle","circle","circle","circle","circle","circle","triangle-up","triangle-up","triangle-up","triangle-up","triangle-up","triangle-up","circle","circle","circle"]},
       "legend": {"title": null, "orient": "none", "legendX": 2233, "legendY": 68, "padding": 12, "symbolOffset": 14, "labelOffset": 24,
         "symbolSize": 200, "symbolStrokeWidth": 2,
         "symbolStrokeColor": {"expr": "['#cc3344','#55cc55','#3b3bbb','#44d8d8','#d040d0','#505050','#dd1a2a','#2ed62e','#1616b4','#2ed8e0','#d42ad4','#101010','#dd1a2a','#2ed62e','#1616b4','#2ed8e0','#e020e0','#101010','#dd1a2a','#2ed62e','#1616b4','#2ed8e0','#d42ad4','#101010','#b81428','#2ed62e','#1616b4'][datum.value - 1]"},
         "labelColor": {"expr": "['#cc3344','#55cc55','#3b3bbb','#44d8d8','#d040d0','#505050','#dd1a2a','#2ed62e','#1616b4','#2ed8e0','#d42ad4','#101010','#dd1a2a','#2ed62e','#1616b4','#2ed8e0','#e020e0','#101010','#dd1a2a','#2ed62e','#1616b4','#2ed8e0','#d42ad4','#101010','#b81428','#2ed62e','#1616b4'][datum.value - 1]"},
         "labelFontSize": 20, "rowPadding": 12.3,
         "fillColor": "#fcfcfc", "strokeColor": "#9a9a9a", "symbolLimit": 40,
         "labelExpr": "datum.label + '\u2800\u2800'"}}
   }}
]}
]}
]
}
